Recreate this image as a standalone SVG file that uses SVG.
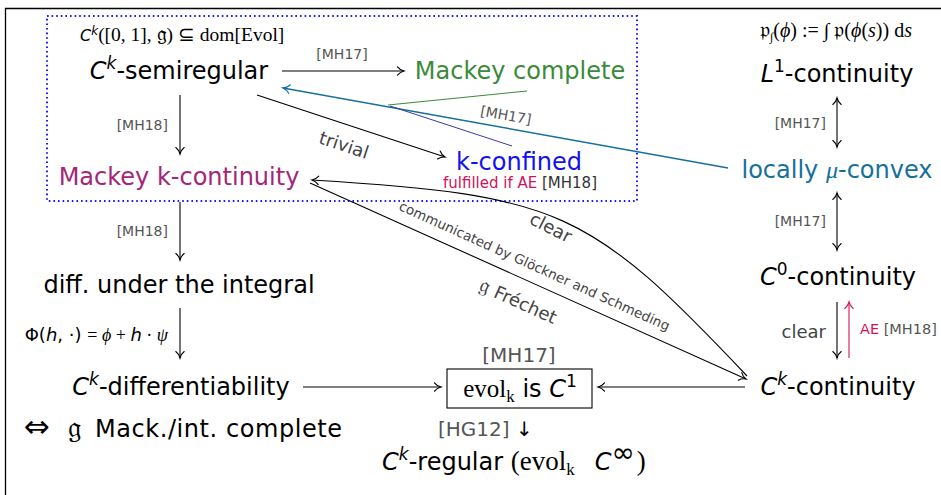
<svg xmlns="http://www.w3.org/2000/svg" width="941" height="495" viewBox="0 0 941 495">
<style>
text { font-family: "DejaVu Sans", sans-serif; }
.n { font-size: 24px; }
.it { font-style: italic; }
.sup { font-size: 17px; }
.sr { font-family: "Liberation Serif", serif; }
.e { fill: none; stroke: #000; stroke-width: 1.1; }
</style>
<defs>
<marker id="ah" markerUnits="userSpaceOnUse" markerWidth="14" markerHeight="14" refX="0" refY="0" viewBox="-8 -7 10 14" orient="auto-start-reverse">
<path d="M-6.5,-4.2 C-4.5,-1.6 -1.5,-0.4 0,0 C-1.5,0.4 -4.5,1.6 -6.5,4.2" fill="none" stroke="#000" stroke-width="1.1" stroke-linecap="round"/>
</marker>
<marker id="aht" markerUnits="userSpaceOnUse" markerWidth="14" markerHeight="14" refX="0" refY="0" viewBox="-8 -7 10 14" orient="auto-start-reverse">
<path d="M-6.5,-4.2 C-4.5,-1.6 -1.5,-0.4 0,0 C-1.5,0.4 -4.5,1.6 -6.5,4.2" fill="none" stroke="#15709c" stroke-width="1.3" stroke-linecap="round"/>
</marker>
<marker id="ahc" markerUnits="userSpaceOnUse" markerWidth="14" markerHeight="14" refX="0" refY="0" viewBox="-8 -7 10 14" orient="auto-start-reverse">
<path d="M-6.5,-4.2 C-4.5,-1.6 -1.5,-0.4 0,0 C-1.5,0.4 -4.5,1.6 -6.5,4.2" fill="none" stroke="#d1145a" stroke-width="1.1" stroke-linecap="round"/>
</marker>
</defs>
<rect width="941" height="495" fill="#fff"/>
<path d="M5.5,495 L5.5,8.5 L941,8.5" fill="none" stroke="#000" stroke-width="1.3"/>
<rect x="47" y="16" width="590" height="185" fill="none" stroke="#1a1aff" stroke-width="2" stroke-dasharray="1.6 3" />

<g id="connectors">
<path class="e" d="M282,71 L404,71" marker-end="url(#ah)"/>
<path class="e" d="M180,95 L180,154" marker-end="url(#ah)"/>
<path class="e" d="M257,95 L445,157" marker-end="url(#ah)"/>
<path d="M728,168 L283,88" fill="none" stroke="#15709c" stroke-width="1.5" marker-end="url(#aht)"/>
<path d="M527,91 L388,105" fill="none" stroke="#3b8a3b" stroke-width="1"/>
<path d="M390,106 L512,146" fill="none" stroke="#3a3aa0" stroke-width="1"/>
<path class="e" d="M180,202 L180,260" marker-end="url(#ah)"/>
<path class="e" d="M180,308 L180,358" marker-end="url(#ah)"/>
<path class="e" d="M303,387 L441,387" marker-end="url(#ah)"/>
<path class="e" d="M745,387 L598,387" marker-end="url(#ah)"/>
<path class="e" d="M310,183 L746,379" stroke-width="1.6" marker-end="url(#ah)"/>
<path class="e" d="M747,376 C590,210 560,195 312,180" marker-end="url(#ah)"/>
<path class="e" d="M837,98 L837,147" marker-start="url(#ah)" marker-end="url(#ah)"/>
<path class="e" d="M837,193 L837,250" marker-start="url(#ah)" marker-end="url(#ah)"/>
<path class="e" d="M837,302 L837,358" marker-end="url(#ah)"/>
<path d="M849,358 L849,302" fill="none" stroke="#d1145a" stroke-width="1.1" marker-end="url(#ahc)"/>

<text font-size="14" fill="#555" x="342" y="59" text-anchor="middle">[MH17]</text>
<text font-size="14" fill="#555" x="168" y="130" text-anchor="end">[MH18]</text>
<text font-size="18" fill="#444" x="342" y="151" text-anchor="middle" transform="rotate(18.3 342 151)">trivial</text>
<text font-size="14" fill="#555" x="505" y="120" text-anchor="middle" transform="rotate(10.2 505 120)">[MH17]</text>
<text font-size="14" fill="#555" x="168" y="236" text-anchor="end">[MH18]</text>
<text x="168" y="341" text-anchor="end" font-size="18"><tspan>Φ(</tspan><tspan class="it">h</tspan><tspan>, ·) </tspan><tspan class="sr">= </tspan><tspan class="sr it">ϕ</tspan><tspan class="sr"> + </tspan><tspan class="it">h</tspan><tspan class="sr"> · </tspan><tspan class="sr it">ψ</tspan></text>
<text font-size="18" fill="#444" x="548" y="233" text-anchor="middle" transform="rotate(27 548 233)">clear</text>
<text font-size="13.5" fill="#444" x="532.6" y="270.3" text-anchor="middle" transform="rotate(24.3 532.6 270.3)">communicated by Glöckner and Schmeding</text>
<text font-size="18" fill="#444" x="515.7" y="307.2" text-anchor="middle" transform="rotate(24.3 515.7 307.2)"><tspan font-size="22">𝔤</tspan> Fréchet</text>
<text font-size="14" fill="#555" x="826" y="127.5" text-anchor="end">[MH17]</text>
<text font-size="14" fill="#555" x="826" y="226" text-anchor="end">[MH17]</text>
<text font-size="18" fill="#444" x="826" y="338" text-anchor="end">clear</text>
<text font-size="14.5" x="860" y="334"><tspan fill="#d1145a">AE</tspan><tspan fill="#555"> [MH18]</tspan></text>
</g>

<g id="domain">
<text x="80" y="41"><tspan class="it" font-size="16">C</tspan><tspan class="it" font-size="12" dy="-6">k</tspan><tspan class="sr" font-size="19.5" dy="6">([0, 1], </tspan><tspan class="sr" font-size="22">𝔤</tspan><tspan class="sr" font-size="19.5">) ⊆ dom[Evol]</tspan></text>
</g>
<g id="semiregular">
<text class="n" x="179" y="79" text-anchor="middle"><tspan class="it">C</tspan><tspan class="it sup" dy="-10">k</tspan><tspan dy="10">-semiregular</tspan></text>
</g>
<g id="mackey-complete">
<text class="n" x="520" y="79" text-anchor="middle" fill="#3b8a3b">Mackey complete</text>
</g>
<g id="mackey-k-continuity">
<text class="n" x="179" y="185" text-anchor="middle" fill="#a32678">Mackey k-continuity</text>
</g>
<g id="k-confined">
<text class="n" x="519" y="170" text-anchor="middle" fill="#1212ee">k-confined</text>
<text font-size="15" x="520" y="188" text-anchor="middle"><tspan fill="#d1145a">fulfilled if AE</tspan><tspan fill="#333"> [MH18]</tspan></text>
</g>
<g id="l1-continuity">
<text class="sr" font-size="20" x="836" y="37" text-anchor="middle"><tspan font-size="22">𝔭</tspan><tspan font-size="12" dy="4">∫</tspan><tspan dy="-4">(</tspan><tspan class="it">ϕ</tspan>) := ∫ <tspan font-size="22">𝔭</tspan>(<tspan class="it">ϕ</tspan>(<tspan class="it">s</tspan>)) d<tspan class="it">s</tspan></text>
<text class="n" x="837" y="82" text-anchor="middle"><tspan class="it">L</tspan><tspan class="sup" dy="-10">1</tspan><tspan dy="10">-continuity</tspan></text>
</g>
<g id="locally-convex">
<text class="n" x="837" y="178" text-anchor="middle" fill="#15709c">locally <tspan class="sr it">μ</tspan>-convex</text>
</g>
<g id="c0-continuity">
<text class="n" x="838" y="285" text-anchor="middle"><tspan class="it">C</tspan><tspan class="sup" dy="-10">0</tspan><tspan dy="10">-continuity</tspan></text>
</g>
<g id="ck-continuity">
<text class="n" x="838" y="395" text-anchor="middle"><tspan class="it">C</tspan><tspan class="it sup" dy="-10">k</tspan><tspan dy="10">-continuity</tspan></text>
</g>
<g id="diff-integral">
<text class="n" x="179" y="293" text-anchor="middle">diff. under the integral</text>
</g>
<g id="ck-differentiability">
<text class="n" x="181" y="395" text-anchor="middle"><tspan class="it">C</tspan><tspan class="it sup" dy="-10">k</tspan><tspan dy="10">-differentiability</tspan></text>
<text x="24" y="437" font-size="31">⇔</text>
<text x="68" y="437" font-size="30" class="sr">𝔤</text>
<text class="n" x="95" y="437" textLength="247" lengthAdjust="spacing">Mack./int. complete</text>
</g>
<g id="evol-c1">
<text font-size="20" fill="#555" x="519" y="362" text-anchor="middle">[MH17]</text>
<rect x="447" y="369" width="145" height="39" fill="none" stroke="#000" stroke-width="1.1"/>
<text class="n" x="520" y="397" text-anchor="middle"><tspan class="sr" font-size="25">evol</tspan><tspan class="sr" font-size="17" dy="5">k</tspan><tspan dy="-5"> is </tspan><tspan class="it">C</tspan><tspan class="sup" dy="-10">1</tspan></text>
</g>
<g id="ck-regular">
<text font-size="20" x="438" y="436"><tspan fill="#555">[HG12] </tspan><tspan fill="#000">↓</tspan></text>
<text class="n" x="382" y="470"><tspan class="it">C</tspan><tspan class="it sup" dy="-10">k</tspan><tspan dy="10">-regular </tspan><tspan class="sr" font-size="27">(evol</tspan><tspan class="sr" font-size="17" dy="5">k</tspan><tspan dx="20" dy="-5" class="it">C</tspan><tspan font-size="28" dy="-8">∞</tspan><tspan class="sr" font-size="27" dx="2" dy="8">)</tspan></text>
</g>
</svg>
